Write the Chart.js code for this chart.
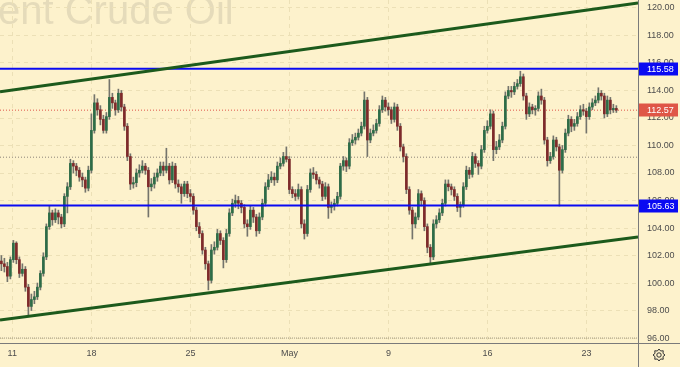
<!DOCTYPE html>
<html>
<head>
<meta charset="utf-8">
<title>Brent Crude Oil</title>
<script src="https://cdn.jsdelivr.net/npm/chart.js@4.4.1/dist/chart.umd.min.js"></script>
<style>
  html, body { margin: 0; padding: 0; background: #fdf2cc; }
</style>
</head>
<body>
<canvas id="brentChart" width="680" height="367"></canvas>
<script>
// Axis labels (trading days counted from Mon 11 Apr, Good Friday closed)
const weekDays = [0, 4, 9, 14, 19, 24, 29];
const weekLabels = ['11', '18', '25', 'May', '9', '16', '23'];
const priceTicks = [96, 98, 100, 102, 104, 106, 108, 110, 112, 114, 116, 118, 120];

// Price bars (open = previous close)
const firstOpen = 101.6;
const closes = [
  101.4, 101.2, 100.5, 101.7, 102.9, 101.7, 100.7, 101.0, 99.7, 98.3,
  98.8, 99.0, 99.7, 100.7, 101.9, 104.1, 105.1, 104.6, 105.1, 104.8,
  104.3, 106.3, 107.0, 108.7, 108.5, 108.2, 107.7, 107.5, 106.9, 108.2,
  111.1, 113.1, 112.6, 111.9, 111.1,
  112.1, 113.5, 113.1, 112.6, 113.8, 112.8, 111.4, 109.2, 107.2, 107.3,
  108.0, 108.2, 108.5, 108.2, 107.0, 107.2, 107.7, 108.0, 108.5, 108.2,
  108.5, 107.5, 108.5, 107.2, 107.0, 106.5, 107.2, 106.5, 106.3, 105.3,
  104.1, 103.6, 102.4, 101.4, 100.2,
  102.4, 102.6, 103.6, 103.1, 101.7, 103.6, 105.1, 105.8, 106.0, 105.8,
  105.5, 104.3, 104.1, 105.3, 104.8, 103.8, 104.8, 105.8, 107.0, 107.5,
  107.7, 107.5, 108.5, 108.7, 109.2, 109.0, 106.8, 106.5, 106.3, 106.8,
  104.3, 103.6, 106.8, 108.0, 107.9,
  107.5, 107.2, 106.3, 107.0, 105.5, 105.6, 105.8, 106.3, 108.5, 108.9,
  108.5, 110.2, 110.4, 110.6, 110.9, 111.4, 113.3, 110.4, 110.9, 111.1,
  111.6, 112.6, 113.3, 112.8, 112.6, 111.9, 112.8, 111.4, 109.9, 109.2,
  106.8, 105.3, 104.3, 104.8, 106.5,
  106.0, 104.1, 102.6, 101.9, 104.3, 104.6, 105.1, 105.8, 107.2, 107.0,
  106.8, 106.3, 105.5, 105.7, 107.0, 108.2, 107.9, 109.2, 108.7, 108.5,
  109.7, 111.1, 111.4, 112.3, 109.7, 109.9, 110.4, 111.4, 113.6, 114.0,
  113.9, 114.3, 114.5, 115.0, 113.6,
  112.3, 112.8, 112.6, 112.7, 113.6, 113.3, 110.4, 108.9, 109.2, 110.4,
  109.9, 108.2, 109.7, 110.9, 111.9, 111.4, 111.6, 112.1, 112.6, 112.5,
  112.1, 112.8, 113.1, 113.3, 113.8, 113.6, 112.3, 113.3, 112.6, 112.7, 112.57
];
const highs = [
  102.0, 101.8, 101.5, 101.9, 103.1, 103.0, 101.9, 101.4, 101.2, 99.9,
  99.2, 99.4, 100.0, 100.9, 102.2, 104.3, 105.6, 105.3, 105.4, 105.3,
  105.0, 106.5, 107.3, 109.0, 108.9, 108.7, 108.4, 108.0, 107.7, 108.5,
  112.3, 113.7, 113.4, 112.9, 112.2,
  112.4, 114.8, 113.8, 113.3, 114.1, 114.0, 113.0, 111.6, 109.4, 107.7,
  108.3, 108.6, 108.9, 108.7, 108.4, 107.6, 108.0, 108.3, 108.8, 108.8,
  109.8, 108.7, 108.8, 108.7, 107.5, 107.2, 107.4, 107.4, 106.8, 106.5,
  105.5, 104.4, 103.8, 102.6, 101.6,
  102.8, 103.0, 103.9, 103.8, 103.3, 103.9, 105.4, 106.1, 106.4, 106.3,
  106.0, 105.7, 104.6, 105.6, 105.5, 105.0, 105.1, 106.1, 107.3, 107.9,
  108.1, 108.0, 108.8, 109.1, 109.5, 109.9, 109.2, 107.0, 106.8, 107.2,
  107.0, 104.6, 107.1, 108.3, 108.4,
  108.1, 107.7, 107.4, 107.3, 107.2, 105.9, 106.1, 106.6, 108.7, 109.2,
  109.1, 110.5, 110.8, 110.9, 111.2, 111.7, 113.9, 113.5, 111.2, 111.5,
  111.9, 112.9, 113.6, 113.5, 113.1, 112.8, 113.1, 113.0, 111.6, 110.1,
  109.4, 107.0, 105.5, 105.1, 106.8,
  106.7, 106.2, 104.3, 102.8, 104.6, 104.9, 105.4, 106.1, 107.5, 107.5,
  107.2, 107.0, 106.5, 105.9, 107.3, 108.5, 108.4, 109.5, 109.4, 108.9,
  110.0, 111.4, 111.8, 112.6, 112.5, 110.3, 110.8, 111.7, 113.9, 114.3,
  114.3, 114.6, 114.8, 115.4, 115.2,
  113.8, 113.1, 113.0, 112.9, 113.9, 114.1, 113.5, 110.6, 109.5, 110.7,
  110.6, 110.1, 110.0, 111.2, 112.2, 112.1, 111.9, 112.4, 112.9, 113.0,
  112.7, 113.1, 113.4, 113.6, 114.2, 114.0, 113.8, 113.6, 113.5, 113.0, 112.9
];
const lows = [
  100.9, 100.8, 100.1, 100.3, 101.5, 101.4, 100.4, 100.5, 99.4, 97.7,
  98.0, 98.5, 98.8, 99.5, 100.5, 101.7, 103.9, 104.2, 104.4, 104.3,
  104.0, 104.1, 105.1, 106.8, 108.0, 107.8, 107.4, 107.0, 106.6, 106.7,
  108.0, 110.9, 112.2, 111.5, 110.9,
  110.9, 111.9, 112.7, 112.2, 112.4, 112.5, 111.1, 108.9, 106.8, 106.9,
  107.0, 107.7, 108.0, 107.9, 104.8, 106.7, 106.9, 107.4, 107.8, 107.8,
  108.0, 107.2, 107.3, 106.9, 106.6, 105.8, 106.3, 106.2, 105.9, 105.0,
  103.8, 103.3, 102.1, 101.0, 99.5,
  100.0, 102.1, 102.4, 102.8, 101.1, 101.5, 103.4, 104.9, 105.5, 105.4,
  105.1, 104.0, 103.4, 103.9, 104.4, 103.4, 103.6, 104.6, 105.6, 106.8,
  107.3, 107.1, 107.3, 108.3, 108.5, 108.8, 106.5, 106.2, 106.0, 106.1,
  104.0, 103.2, 103.4, 106.6, 107.6,
  107.2, 106.9, 106.0, 106.1, 104.7, 105.1, 105.3, 105.6, 106.1, 108.2,
  108.1, 108.3, 110.0, 110.1, 110.4, 110.7, 111.2, 109.2, 110.2, 110.7,
  110.9, 111.4, 112.4, 112.5, 112.2, 111.6, 111.7, 111.1, 109.6, 108.8,
  106.5, 105.0, 103.2, 104.0, 104.6,
  105.6, 103.8, 102.2, 101.4, 101.7, 104.0, 104.4, 104.9, 105.6, 106.7,
  106.4, 106.0, 105.2, 104.8, 105.5, 106.8, 107.6, 107.7, 108.4, 107.9,
  108.3, 109.5, 110.9, 111.2, 108.9, 109.4, 109.7, 110.2, 111.2, 113.4,
  113.5, 113.7, 114.1, 114.3, 113.3,
  111.9, 112.1, 112.3, 112.2, 112.5, 113.0, 110.1, 108.5, 108.7, 109.0,
  109.6, 105.6, 108.0, 109.5, 110.7, 111.0, 111.1, 111.4, 111.9, 112.2,
  110.9, 111.9, 112.6, 112.9, 113.1, 113.3, 112.0, 112.1, 112.3, 112.4, 112.4
];

// Drawn levels and channel ends (left edge, right edge)
const upperChannel = [113.91, 120.36];
const lowerChannel = [97.31, 103.34];
const resistance = 115.58;
const support = 105.63;
const lastPrice = 112.57;
const prevClose = 109.15;

// View window in trading days, bar spacing in days
const viewStart = -0.62;
const viewEnd = 31.6;
const firstBar = -0.55;
const barDays = 0.1515;

const upColor = '#2d6c47';
const downColor = '#7e2a2a';
const wickColor = '#74746c';
const gridColor = '#ece0b6';
const textColor = '#4d4d4d';
const fontFamily = '"Liberation Sans", Arial, sans-serif';

const opens = closes.map((c, i) => (i === 0 ? firstOpen : closes[i - 1]));
const times = closes.map((c, i) => firstBar + i * barDays);

const bodies = closes.map((c, i) => ({ x: times[i], y: [opens[i], c] }));
const wicks = closes.map((c, i) => ({ x: times[i], y: [lows[i], highs[i]] }));
const bodyColors = closes.map((c, i) => (c >= opens[i] ? upColor : downColor));

function level(value) {
  return [{ x: viewStart, y: value }, { x: viewEnd, y: value }];
}

// no extra room around the scales, the plot runs to the canvas edges
function tightScale(scale) {
  scale.paddingTop = 0;
  scale.paddingBottom = 0;
  scale.paddingLeft = 0;
  scale.paddingRight = 0;
}

const priceTags = [
  { value: resistance, color: '#0a0af2' },
  { value: support, color: '#0a0af2' },
  { value: lastPrice, color: '#df5647' }
];

const chartDecor = {
  id: 'chartDecor',
  beforeDraw(chart) {
    const { ctx, width, height } = chart;
    ctx.save();
    ctx.fillStyle = '#fdf2cc';
    ctx.fillRect(0, 0, width, height);
    // symbol watermark, pushed off the left edge like the original
    ctx.font = '40px ' + fontFamily;
    ctx.fillStyle = 'rgba(120, 115, 105, 0.18)';
    ctx.textBaseline = 'alphabetic';
    const lead = ctx.measureText('Br').width;
    ctx.fillText('Brent Crude Oil', -2 - lead, 24);
    ctx.restore();
  },
  afterDraw(chart) {
    const { ctx, chartArea, width, height } = chart;
    const yScale = chart.scales.y;
    ctx.save();
    ctx.strokeStyle = '#7a7a7a';
    ctx.lineWidth = 1;
    ctx.beginPath();
    ctx.moveTo(chartArea.right + 0.5, 0);
    ctx.lineTo(chartArea.right + 0.5, height);
    ctx.moveTo(0, chartArea.bottom + 0.5);
    ctx.lineTo(width, chartArea.bottom + 0.5);
    ctx.stroke();

    // price tags on the right scale
    ctx.font = '9px ' + fontFamily;
    ctx.textBaseline = 'middle';
    ctx.textAlign = 'left';
    priceTags.forEach(tag => {
      const y = Math.round(yScale.getPixelForValue(tag.value));
      ctx.fillStyle = tag.color;
      ctx.fillRect(chartArea.right + 1, y - 6.5, width - chartArea.right - 3, 13);
      ctx.fillStyle = '#ffffff';
      ctx.fillText(tag.value.toFixed(2), chartArea.right + 9, y + 0.5);
    });

    // settings gear in the corner
    const cx = chartArea.right + 21;
    const cy = chartArea.bottom + 12;
    ctx.strokeStyle = '#333333';
    ctx.lineWidth = 1;
    ctx.beginPath();
    for (let k = 0; k < 16; k++) {
      const a = (k / 16) * Math.PI * 2;
      const r = k % 2 === 0 ? 6 : 4.3;
      const px = cx + r * Math.cos(a);
      const py = cy + r * Math.sin(a);
      if (k === 0) ctx.moveTo(px, py); else ctx.lineTo(px, py);
    }
    ctx.closePath();
    ctx.stroke();
    ctx.beginPath();
    ctx.arc(cx, cy, 2.2, 0, Math.PI * 2);
    ctx.stroke();
    ctx.restore();
  }
};

const ctx = document.getElementById('brentChart').getContext('2d');

new Chart(ctx, {
  type: 'bar',
  data: {
    datasets: [
      {
        type: 'line',
        data: level(prevClose),
        borderColor: '#8a8378',
        borderWidth: 1,
        borderDash: [1, 2],
        pointRadius: 0,
        order: 5
      },
      {
        type: 'line',
        data: level(lastPrice),
        borderColor: '#e0544a',
        borderWidth: 1,
        borderDash: [1, 2],
        pointRadius: 0,
        order: 5
      },
      {
        type: 'line',
        data: level(96),
        borderColor: '#a09880',
        borderWidth: 1,
        borderDash: [1, 1],
        pointRadius: 0,
        order: 5
      },
      {
        data: wicks,
        backgroundColor: wickColor,
        barThickness: 1,
        grouped: false,
        order: 4
      },
      {
        data: bodies,
        backgroundColor: bodyColors,
        barThickness: 2,
        grouped: false,
        order: 3
      },
      {
        type: 'line',
        data: level(resistance),
        borderColor: '#0a0af2',
        borderWidth: 2,
        pointRadius: 0,
        order: 1
      },
      {
        type: 'line',
        data: level(support),
        borderColor: '#0a0af2',
        borderWidth: 2,
        pointRadius: 0,
        order: 1
      },
      {
        type: 'line',
        data: [{ x: viewStart, y: upperChannel[0] }, { x: viewEnd, y: upperChannel[1] }],
        borderColor: '#1c5a1c',
        borderWidth: 3,
        pointRadius: 0,
        order: 0
      },
      {
        type: 'line',
        data: [{ x: viewStart, y: lowerChannel[0] }, { x: viewEnd, y: lowerChannel[1] }],
        borderColor: '#1c5a1c',
        borderWidth: 3,
        pointRadius: 0,
        order: 0
      }
    ]
  },
  options: {
    responsive: false,
    animation: false,
    events: [],
    layout: { padding: 0, autoPadding: false },
    plugins: {
      legend: { display: false },
      tooltip: { enabled: false }
    },
    scales: {
      x: {
        type: 'linear',
        min: viewStart,
        max: viewEnd,
        offset: false,
        grid: { color: gridColor, offset: false, drawTicks: false },
        border: { display: false, dash: [4, 4] },
        afterBuildTicks: scale => { scale.ticks = weekDays.map(v => ({ value: v })); },
        afterFit: scale => { scale.height = 24; tightScale(scale); },
        ticks: {
          autoSkip: false,
          maxRotation: 0,
          padding: 5,
          color: textColor,
          font: { family: fontFamily, size: 9 },
          callback: (value, index) => weekLabels[index]
        }
      },
      y: {
        position: 'right',
        min: 95.64,
        max: 120.58,
        grid: { color: gridColor, drawTicks: false },
        border: { display: false, dash: [4, 4] },
        afterBuildTicks: scale => { scale.ticks = priceTicks.map(v => ({ value: v })); },
        afterFit: scale => { scale.width = 42; tightScale(scale); },
        ticks: {
          padding: 9,
          color: textColor,
          font: { family: fontFamily, size: 9 },
          callback: value => Number(value).toFixed(2)
        }
      }
    }
  },
  plugins: [chartDecor]
});
</script>
</body>
</html>
